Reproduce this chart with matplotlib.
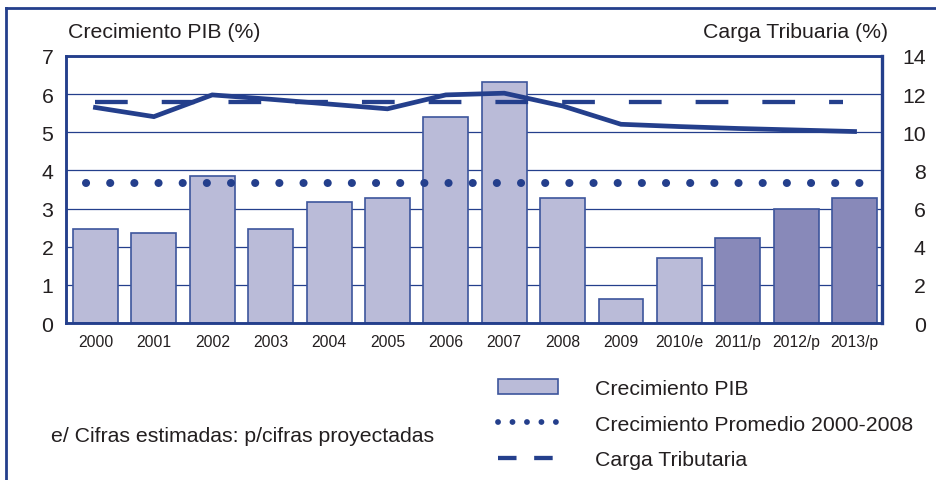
import matplotlib.pyplot as plt
from matplotlib.lines import Line2D
from matplotlib.patches import Patch

# data
years = ['2000', '2001', '2002', '2003', '2004', '2005', '2006', '2007',
         '2008', '2009', '2010/e', '2011/p', '2012/p', '2013/p']
pib = [2.46, 2.37, 3.86, 2.46, 3.16, 3.28, 5.41, 6.33, 3.28, 0.62, 1.70, 2.23, 2.99, 3.27]
carga = [11.3, 10.82, 11.96, 11.73, 11.48, 11.23, 11.96, 12.05, 11.38, 10.42, 10.3, 10.2, 10.12, 10.04]
pib_promedio = 3.66      # Crecimiento Promedio 2000-2008
carga_ref = 11.6         # dashed line, right axis
projected = ['2011/p', '2012/p', '2013/p']

navy = '#243f8c'
edge = '#3d559c'
light = '#babbd8'
dark = '#8889b9'
txt = '#231f20'

plt.rcParams['font.family'] = ['Liberation Sans', 'DejaVu Sans']

fig = plt.figure(figsize=(9.36, 4.81), dpi=100)
ax = fig.add_axes([0.0705, 0.3264, 0.8718, 0.5551])
ax2 = ax.twinx()

x = list(range(len(years)))
colors = [dark if y in projected else light for y in years]
ax.bar(x, pib, width=0.77, color=colors, edgecolor=edge, linewidth=1.2, zorder=2)

# average growth, dotted
ax.plot([-0.17, 13.2], [pib_promedio, pib_promedio], color=navy, linewidth=5.8,
        dashes=(0.01, 2.99), dash_capstyle='round', zorder=3)

# tax burden
ax2.plot(x, carga, color=navy, linewidth=3.4, solid_joinstyle='miter', zorder=4)
ax2.plot([0.0, 12.8], [carga_ref, carga_ref], color=navy, linewidth=3.1,
         dashes=(7.6, 7.9), dash_capstyle='butt', zorder=3)

ax.set_xlim(-0.505, 13.47)
ax.set_ylim(0, 7)
ax2.set_ylim(0, 14)
ax.set_yticks(range(0, 8))
ax2.set_yticks(range(0, 15, 2))
ax.set_xticks(x)
ax.set_xticklabels(years)

ax.set_axisbelow(True)
ax.yaxis.grid(True, color=navy, linewidth=0.9)
ax.xaxis.grid(False)

for a in (ax, ax2):
    for s in a.spines.values():
        s.set_color(navy)
        s.set_linewidth(1.8)
ax2.spines['right'].set_linewidth(2.4)

ax.tick_params(axis='y', length=0, pad=9, labelsize=15.3, labelcolor=txt)
ax.tick_params(axis='x', length=0, pad=8, labelsize=11.3, labelcolor=txt)
ax2.tick_params(axis='y', length=0, pad=31.5, labelsize=15.3, labelcolor=txt)
for lab in ax2.get_yticklabels():
    lab.set_horizontalalignment('right')

fig.text(68 / 936, 1 - 32 / 481, 'Crecimiento PIB (%)', fontsize=15.3, color=txt,
         ha='left', va='center')
fig.text(888 / 936, 1 - 32 / 481, 'Carga Tribuaria (%)', fontsize=15.3, color=txt,
         ha='right', va='center')
fig.text(51 / 936, 1 - 437 / 481, 'e/ Cifras estimadas: p/cifras proyectadas',
         fontsize=15.3, color=txt, ha='left', va='center')

h_bar = Patch(facecolor=light, edgecolor=edge, linewidth=1.2)
h_dot = Line2D([], [], color=navy, linewidth=4.2, dashes=(0.01, 2.47),
               dash_capstyle='round')
h_dash = Line2D([], [], color=navy, linewidth=3.1, dashes=(4.3, 4.1),
                dash_capstyle='butt')
leg = fig.legend([h_bar, h_dot, h_dash],
                 ['Crecimiento PIB', 'Crecimiento Promedio 2000-2008', 'Carga Tributaria'],
                 loc='upper left', bbox_to_anchor=(498 / 936, 1 - 380 / 481),
                 frameon=False, fontsize=15.3, borderpad=0, borderaxespad=0,
                 handlelength=2.83, handletextpad=1.72, labelspacing=0.78)
for t in leg.get_texts():
    t.set_color(txt)

# outer frame of the figure (open to the right and bottom)
fig.add_artist(Line2D([6 / 936, 6 / 936], [-0.1, 1 - 9 / 481], color=navy,
                      linewidth=2, transform=fig.transFigure))
fig.add_artist(Line2D([6 / 936, 1.1], [1 - 9 / 481, 1 - 9 / 481], color=navy,
                      linewidth=2, transform=fig.transFigure))

fig.savefig('out.png', dpi=100)
